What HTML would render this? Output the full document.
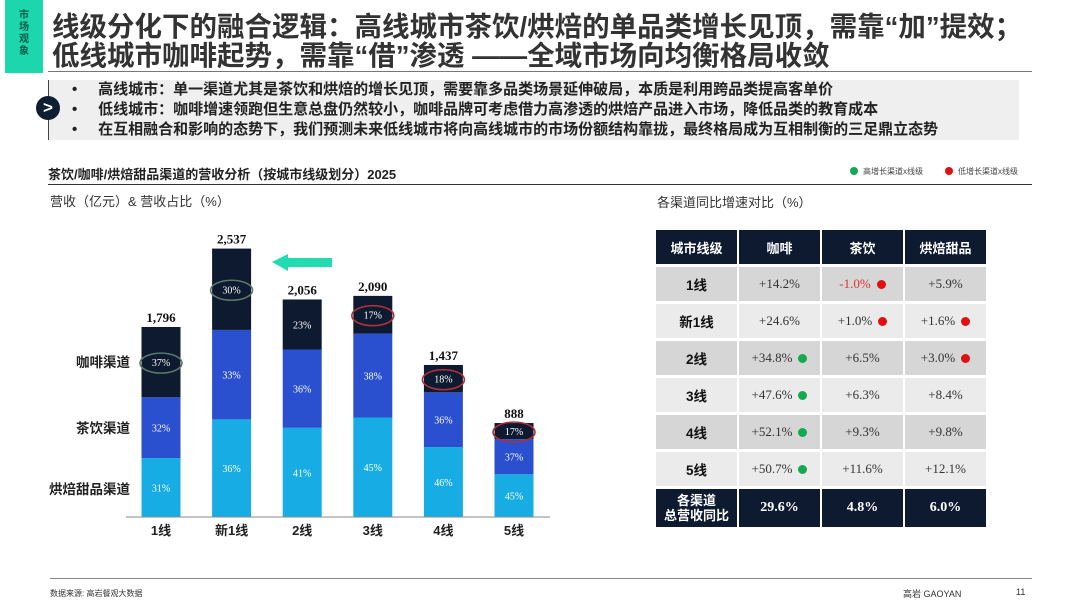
<!DOCTYPE html>
<html><head><meta charset="utf-8">
<style>
body{margin:0;width:1080px;height:608px;background:#fff;position:relative;overflow:hidden;font-family:"Liberation Sans","Noto Sans CJK SC",sans-serif;color:#222}
.abs{position:absolute}
.title{left:52px;font-size:27.5px;font-weight:bold;color:#333;white-space:nowrap;letter-spacing:0px}
.bul{left:72px;font-size:15px;font-weight:bold;color:#222;white-space:nowrap}
table{border-collapse:separate;border-spacing:2px 3px}
</style></head><body>
<div class="abs" style="left:5px;top:0;width:38px;height:73px;background:#1cd6ac;color:#0b5a49;font-size:10px;font-weight:bold;text-align:center;line-height:12px;padding-top:10px;box-sizing:border-box">市<br>场<br>观<br>象</div>
<div class="abs title" style="top:4px">线级分化下的融合逻辑：高线城市茶饮/烘焙的单品类增长见顶，需靠“加”提效；</div>
<div class="abs title" style="top:33px">低线城市咖啡起势，需靠“借”渗透 ——全域市场向均衡格局收敛</div>
<div class="abs" style="left:48px;top:71px;width:984px;height:1px;background:#777"></div>
<div class="abs" style="left:48px;top:80px;width:970px;height:60px;background:#efefef;border-left:1px solid #444"></div>
<div class="abs" style="left:36px;top:96px;width:24px;height:24px;border-radius:50%;background:#0e1e33;color:#fff;font-size:17px;font-weight:bold;text-align:center;line-height:23px">&gt;</div>
<div class="abs bul" style="top:78px">•&nbsp;&nbsp;&nbsp;&nbsp;&nbsp;高线城市：单一渠道尤其是茶饮和烘焙的增长见顶，需要靠多品类场景延伸破局，本质是利用跨品类提高客单价</div>
<div class="abs bul" style="top:98px">•&nbsp;&nbsp;&nbsp;&nbsp;&nbsp;低线城市：咖啡增速领跑但生意总盘仍然较小，咖啡品牌可考虑借力高渗透的烘焙产品进入市场，降低品类的教育成本</div>
<div class="abs bul" style="top:118px">•&nbsp;&nbsp;&nbsp;&nbsp;&nbsp;在互相融合和影响的态势下，我们预测未来低线城市将向高线城市的市场份额结构靠拢，最终格局成为互相制衡的三足鼎立态势</div>
<div class="abs" style="left:48px;top:164px;font-size:13px;font-weight:bold;color:#222">茶饮/咖啡/烘焙甜品渠道的营收分析（按城市线级划分）2025</div>
<div class="abs" style="left:850px;top:166px;font-size:8px;color:#444"><span style="display:inline-block;width:8px;height:8px;border-radius:50%;background:#14a850;vertical-align:-1px;margin-right:5px"></span>高增长渠道x线级</div>
<div class="abs" style="left:945px;top:166px;font-size:8px;color:#444"><span style="display:inline-block;width:8px;height:8px;border-radius:50%;background:#e01010;vertical-align:-1px;margin-right:5px"></span>低增长渠道x线级</div>
<div class="abs" style="left:48px;top:184px;width:984px;height:1px;background:#333"></div>
<div class="abs" style="left:50px;top:191px;font-size:13px;color:#333">营收（亿元）&amp; 营收占比（%）</div>
<div class="abs" style="left:657px;top:192px;font-size:13px;color:#333">各渠道同比增速对比（%）</div>

<svg class="abs" style="left:0;top:0" width="1080" height="608" id="chart"></svg>

<div class="abs" style="left:654px;top:227px">
<table id="tbl" style="font-family:'Liberation Serif','Noto Serif CJK SC',serif;font-size:13px"></table>
</div>

<div class="abs" style="left:50px;top:578px;width:982px;height:1px;background:#888"></div>
<div class="abs" style="left:50px;top:588px;font-size:8px;color:#333">数据来源: 高岩餐观大数据</div>
<div class="abs" style="left:903px;top:587px;font-size:9px;color:#333">高岩 GAOYAN</div>
<div class="abs" style="left:1016px;top:587px;font-size:9px;color:#333">11</div>

<script>
const categories=["1线","新1线","2线","3线","4线","5线"];
const totals=[1796,2537,2056,2090,1437,888];
const coffeePct=[37,30,23,17,18,17];
const teaPct=[32,33,36,38,36,37];
const bakeryPct=[31,36,41,45,46,45];
const circled=[["#5a7a6a",0],["#5a7a6a",1],null,["#b0303a",3],["#b0303a",4],["#b0303a",5]];

const NS="http://www.w3.org/2000/svg";
const svg=document.getElementById('chart');
const baseY=517, scale=0.1058, x0=161, step=70.6, bw=39;
const xPos=i=>x0+i*step;
const yH=v=>v*scale;
function mk(t,a){const e=document.createElementNS(NS,t);for(const k in a)e.setAttribute(k,a[k]);svg.appendChild(e);return e;}
function txt(x,y,s,o){const e=mk('text',Object.assign({x:x,y:y,'text-anchor':'middle'},o));e.textContent=s;return e;}

const segs=[["bakery",bakeryPct,"#17ade4"],["tea",teaPct,"#2a50cf"],["coffee",coffeePct,"#0d1a30"]];
categories.forEach((c,i)=>{
  const tot=totals[i];const sum=coffeePct[i]+teaPct[i]+bakeryPct[i];
  let y=baseY;const x=xPos(i);
  segs.forEach(([n,arr,col])=>{
    const h=yH(tot)*arr[i]/sum;
    const r=mk('rect',{x:x-bw/2,y:y-h,width:bw,height:h,fill:col});
    
    
    const t=txt(x,y-h/2+4,arr[i]+'%',{fill:'#fff','font-size':10,'font-family':'Liberation Serif, serif'});
    
    
    if(n==="coffee"&&circled[i]){
      const el=mk('ellipse',{cx:x,cy:y-h/2+1,rx:21,ry:10,fill:'none',stroke:circled[i][0],'stroke-width':1.6});
      
      
    }
    y-=h;
  });
  const tl=txt(x,y-5,tot.toLocaleString('en-US'),{fill:'#111','font-size':13,'font-weight':'bold','font-family':'Liberation Serif, serif'});
  
  
  const xl=txt(x,baseY+18,c,{fill:'#222','font-size':13,'font-weight':'bold'});
  
  
});
const ax=mk('line',{x1:126,x2:550,y1:baseY,y2:baseY,stroke:'#888','stroke-width':1});


const labs=[["烘焙甜品渠道",489],["茶饮渠道",428],["咖啡渠道",362]];
labs.forEach(([s,y],k)=>{const t=txt(130,y+5,s,{'text-anchor':'end',fill:'#222','font-size':13.5,'font-weight':'bold'});

});
const ar=mk('path',{d:'M332,258 L288,258 L288,254 L272,262 L288,271 L288,267 L332,267 Z',fill:'#22dbb0'});



const tiers=["1线","新1线","2线","3线","4线","5线"];
const coffeeG=["+14.2%","+24.6%","+34.8%","+47.6%","+52.1%","+50.7%"];
const teaG=["-1.0%","+1.0%","+6.5%","+6.3%","+9.3%","+11.6%"];
const bakeG=["+5.9%","+1.6%","+3.0%","+8.4%","+9.8%","+12.1%"];
const coffeeDot=[null,null,"g","g","g","g"];
const teaDot=["r","r",null,null,null,null];
const bakeDot=[null,"r","r",null,null,null];
const totalG=["29.6%","4.8%","6.0%"];
const tb=document.getElementById('tbl');
function cell(tr,html,st){const td=document.createElement('td');td.innerHTML=html;td.style.cssText=st;tr.appendChild(td);return td;}
const dot=c=>c?`<span style="display:inline-block;width:9px;height:9px;border-radius:50%;background:${c==='g'?'#14a850':'#e01010'};margin-left:6px;vertical-align:-1px"></span>`:'';
const hs='background:#0d1a30;color:#fff;font-weight:bold;text-align:center;height:34px;padding:0;font-family:Liberation Sans,Noto Sans CJK SC,sans-serif;font-size:13px;';
let tr=document.createElement('tr');tb.appendChild(tr);


["城市线级","咖啡","茶饮","烘焙甜品"].forEach(h=>cell(tr,h,hs+'width:81px'));
tiers.forEach((t,i)=>{
  const bg=i%2?'#ebebeb':'#d6d6d6';
  const r=document.createElement('tr');tb.appendChild(r);
  
  
  const cs='background:'+bg+';text-align:center;height:34px;padding:0;color:#333;';
  cell(r,t,cs+'font-weight:bold;font-family:Liberation Sans,Noto Sans CJK SC,sans-serif;font-size:13.5px;color:#111');
  cell(r,coffeeG[i]+dot(coffeeDot[i]),cs);
  cell(r,(teaG[i][0]==='-'?'<span style="color:#e03030">'+teaG[i]+'</span>':teaG[i])+dot(teaDot[i]),cs);
  cell(r,bakeG[i]+dot(bakeDot[i]),cs);
});
tr=document.createElement('tr');tb.appendChild(tr);


cell(tr,'各渠道<br>总营收同比',hs+'height:38px;line-height:15px');
totalG.forEach(v=>cell(tr,v,hs+'height:38px;font-family:Liberation Serif,serif;font-size:14px'));
</script>
</body></html>
